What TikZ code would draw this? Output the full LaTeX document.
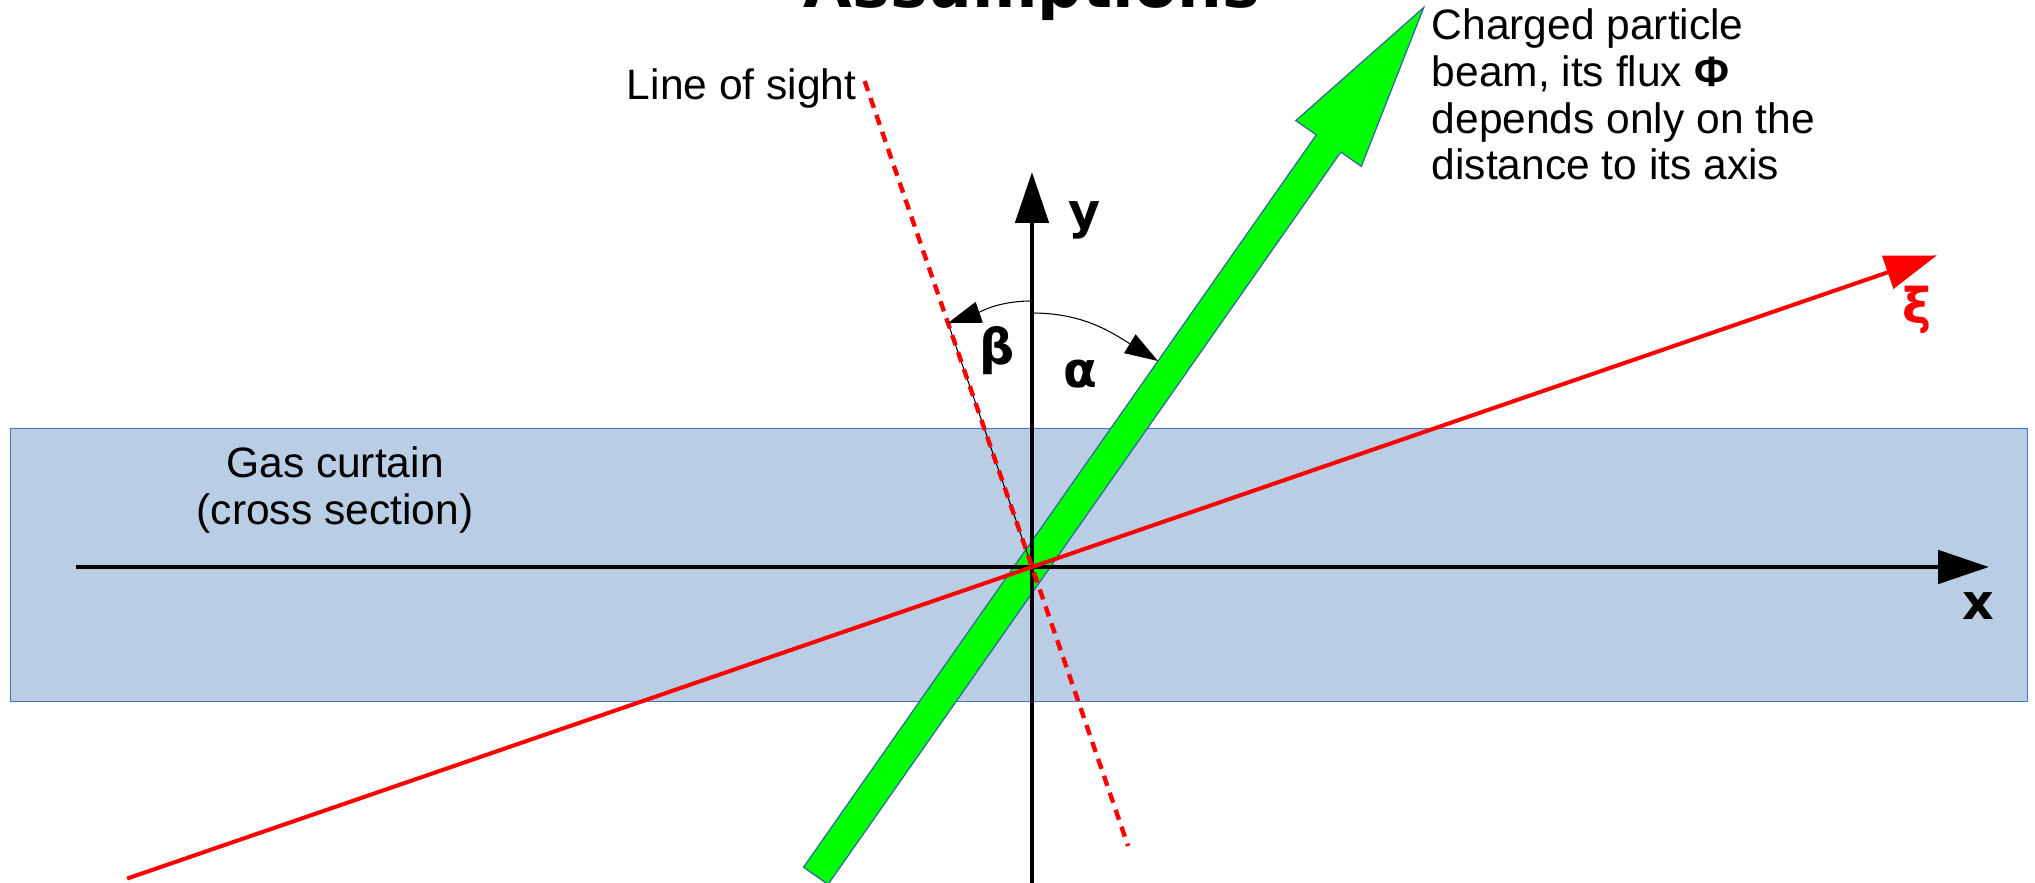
\documentclass[tikz,border=0pt]{standalone}
\usepackage{fontspec}
\setmainfont{Liberation Sans}
\newfontfamily\djv{DejaVu Sans}
\usetikzlibrary{arrows.meta,calc}
\definecolor{gasfill}{RGB}{185,205,229}
\definecolor{gasedge}{RGB}{68,114,196}
\definecolor{beamgreen}{RGB}{0,255,0}
\definecolor{beamedge}{RGB}{52,101,164}
\begin{document}
\begin{tikzpicture}[x=0.1mm,y=0.1mm,
  txt/.style={font=\fontsize{12.1pt}{13.3pt}\selectfont, inner sep=0},
  lbl/.style={font=\djv\bfseries\fontsize{14pt}{16pt}\selectfont, inner sep=0},
  axisline/.style={line width=1.4pt, -{Triangle[length=14.5pt,width=9.4pt]}},
  xiline/.style={red, line width=1.15pt, -{Triangle[length=14.8pt,width=9.7pt]}},
  angarrow/.style={line width=0.3pt, -{Triangle[length=9.4pt,width=6.2pt]}},
  losline/.style={red, line width=1.25pt, dash pattern=on 3pt off 2.1pt},
  beamshape/.style={draw=beamedge, fill=beamgreen, line width=0.35pt}
]
\useasboundingbox (0,0) rectangle (2035,-883);
\coordinate (O) at (1032,-567);

% gas curtain
\node[draw=gasedge, fill=gasfill, line width=0.35pt, inner sep=0,
      minimum width=201.7mm, minimum height=27.3mm, anchor=north west] (gas) at (10,-428) {};
\node[txt, align=center, anchor=north] (gaslbl) at (335,-446) {Gas curtain\\(cross section)};

% beam
\path[beamshape]
  ($(O)+(235:377)+(145:15)$) -- ($(O)+(55:517)+(145:15)$) -- ($(O)+(55:517)+(145:40)$)
  -- ($(O)+(55:683)$) -- ($(O)+(55:517)+(-35:40)$) -- ($(O)+(55:517)+(-35:15)$)
  -- ($(O)+(235:377)+(-35:15)$) -- cycle;

% axes
\coordinate (xs) at (76,-567);
\coordinate (xe) at (1989,-567);
\coordinate (ys) at (1032,-890);
\coordinate (ye) at (1032,-172);
\draw[axisline] (xs) -- (xe);
\draw[axisline] (ys) -- (ye);

% xi axis
\coordinate (xis) at ($(O)+(199:957)$);
\coordinate (xie) at ($(O)+(19:957)$);
\draw[xiline] (xis) -- (xie);

% line of sight
\coordinate (lost) at ($(O)+(109:514)$);
\coordinate (losb) at ($(O)+(-71:295)$);
\coordinate (B2) at ($(O)+(109:258)$);
\draw[line width=0.3pt] (O) -- (B2);
\draw[losline] (lost) -- (losb);

% angle arcs
\coordinate (A1) at (1032,-313);
\coordinate (A2) at (1158,-361);
\coordinate (B1) at (1032,-301);
\draw[angarrow] (A1) to[out=0,in=148.5] (A2);
\draw[angarrow] (B1) to[out=180,in=19] (B2);

% labels
\node[lbl] (ylbl) at (1085,-220) {y};
\node[lbl] (xlbl) at (1978,-606) {x};
\node[lbl] (blbl) at (997,-351) {β};
\node[lbl] (albl) at (1080,-374) {α};
\node[lbl, text=red] (xilbl) at (1917,-310) {ξ};
\node[font=\djv\bfseries\fontsize{17.9pt}{20pt}\selectfont, anchor=base, inner sep=0] (title) at (1032,-8) {Assumptions};
\node[txt, align=left, anchor=north west] (beamlbl) at (1431,-8)
  {Charged particle\\beam, its flux \textbf{Φ}\\depends only on the\\distance to its axis};
\node[txt, anchor=base east] (loslbl) at (857,-100) {Line of sight};
\end{tikzpicture}
\end{document}
